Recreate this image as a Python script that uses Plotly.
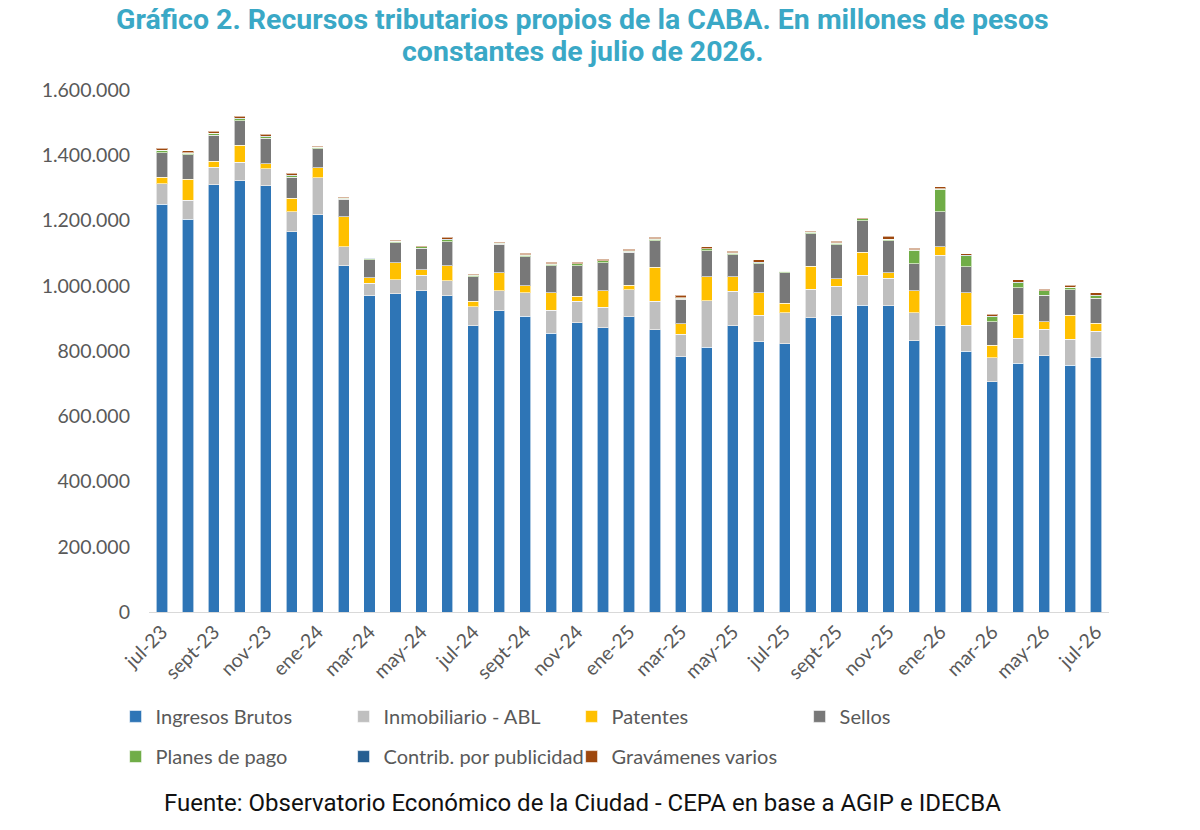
import plotly.graph_objects as go
import numpy as np

# meses jul-23 .. jul-26
meses = ["jul-23", "ago-23", "sept-23", "oct-23", "nov-23", "dic-23",
         "ene-24", "feb-24", "mar-24", "abr-24", "may-24", "jun-24",
         "jul-24", "ago-24", "sept-24", "oct-24", "nov-24", "dic-24",
         "ene-25", "feb-25", "mar-25", "abr-25", "may-25", "jun-25",
         "jul-25", "ago-25", "sept-25", "oct-25", "nov-25", "dic-25",
         "ene-26", "feb-26", "mar-26", "abr-26", "may-26", "jun-26",
         "jul-26"]

# valores en miles de millones de pesos (se escalan abajo)
ingresos_brutos = [1250, 1204, 1310, 1322, 1307, 1166, 1218, 1061, 970, 976, 985, 970,
                   877, 923, 907, 855, 886, 871, 905, 865, 782, 811, 877, 828,
                   823, 902, 909, 941, 939, 832, 877, 800, 705, 763, 785, 757, 781]
inmobiliario = [62, 58, 54, 56, 51, 61, 113, 58, 38, 42, 47, 45,
                59, 61, 72, 70, 66, 63, 83, 87, 70, 143, 106, 82,
                94, 87, 89, 91, 84, 85, 216, 79, 74, 76, 82, 79, 80]
patentes = [21, 65, 17, 53, 16, 41, 30, 92, 17, 53, 17, 46,
            17, 56, 21, 54, 16, 51, 14, 105, 31, 74, 44, 69,
            29, 71, 23, 71, 17, 67, 26, 99, 39, 74, 23, 74, 24]
sellos = [75, 74, 80, 75, 78, 64, 59, 54, 54, 61, 66, 74,
          75, 87, 89, 82, 93, 86, 100, 81, 75, 79, 68, 88,
          94, 100, 105, 97, 98, 84, 108, 80, 72, 81, 81, 78, 77]
planes_pago = [7, 5, 6, 6, 5, 5, 4, 3, 4, 4, 4, 6,
               4, 4, 5, 5, 6, 5, 4, 5, 4, 6, 5, 4,
               4, 4, 5, 5, 4, 41, 69, 34, 15, 15, 13, 7, 8]
publicidad = [1, 1, 1, 1, 1, 1, 1, 1, 1, 1, 1, 1,
              1, 1, 1, 1, 1, 1, 1, 1, 1, 1, 1, 1,
              1, 1, 1, 1, 1, 1, 1, 1, 1, 1, 1, 1, 1]
gravamenes = [6, 7, 5, 7, 7, 7, 3, 3, 2, 2, 3, 6,
              3, 3, 5, 5, 4, 5, 5, 4, 8, 5, 5, 7,
              1, 2, 5, 3, 9, 5, 6, 5, 7, 8, 5, 5, 7]

series = [
    ("Ingresos Brutos", ingresos_brutos, "#2E75B6", "legend"),
    ("Inmobiliario - ABL", inmobiliario, "#BFBFBF", "legend"),
    ("Patentes", patentes, "#FFC000", "legend"),
    ("Sellos", sellos, "#787878", "legend"),
    ("Planes de pago", planes_pago, "#70AD47", "legend2"),
    ("Contrib. por publicidad", publicidad, "#255E91", "legend2"),
    ("Gravámenes varios", gravamenes, "#9E480E", "legend2"),
]

fig = go.Figure()
for name, vals, color, leg in series:
    fig.add_bar(
        x=meses, y=np.array(vals) * 1000, name=name,
        marker_color=color,
        marker_line=dict(color="rgba(255,255,255,0.6)", width=1),
        legend=leg,
    )

txt_gray = "#595959"
title_color = "#3AA8C6"
leg_common = dict(
    orientation="h", xanchor="left", yanchor="middle", traceorder="normal",
    font=dict(family="Lato", size=20, color=txt_gray),
    entrywidth=183, entrywidthmode="pixels",
    bgcolor="rgba(0,0,0,0)", itemclick=False,
)

fig.update_layout(
    width=1200, height=830,
    barmode="stack", bargap=0.57,
    plot_bgcolor="white", paper_bgcolor="white",
    separators=",.",
    margin=dict(l=141, r=99, t=82, b=226),
    xaxis=dict(
        tickvals=meses[::2], tickangle=-45,
        tickfont=dict(family="Lato", size=19.5, color=txt_gray),
        showline=True, linecolor="#D9D9D9", linewidth=1,
        showgrid=False, ticks="",
    ),
    yaxis=dict(
        range=[0, 1600000], dtick=200000, tickformat=",",
        tickfont=dict(family="Lato", size=19.5, color=txt_gray),
        showgrid=False, zeroline=False, ticklabelstandoff=18,
    ),
    legend=dict(x=-0.0348, y=-0.200, **leg_common),
    legend2=dict(x=-0.0348, y=-0.277, **leg_common),
    annotations=[
        dict(text="<b>Gráfico 2. Recursos tributarios propios de la CABA. En millones de pesos</b>",
             xref="paper", yref="paper", x=0.452, y=1.1341,
             xanchor="center", yanchor="middle", showarrow=False, borderpad=0,
             font=dict(family="Roboto", size=28.5, color=title_color)),
        dict(text="<b>constantes de julio de 2026.</b>",
             xref="paper", yref="paper", x=0.452, y=1.0728,
             xanchor="center", yanchor="middle", showarrow=False, borderpad=0,
             font=dict(family="Roboto", size=28.5, color=title_color)),
        dict(text="Fuente: Observatorio Económico de la Ciudad - CEPA en base a AGIP e IDECBA",
             xref="paper", yref="paper", x=0.452, y=-0.366,
             xanchor="center", yanchor="middle", showarrow=False,
             font=dict(family="Roboto", size=24, color="#111111")),
    ],
)

fig.write_html("out.html")
